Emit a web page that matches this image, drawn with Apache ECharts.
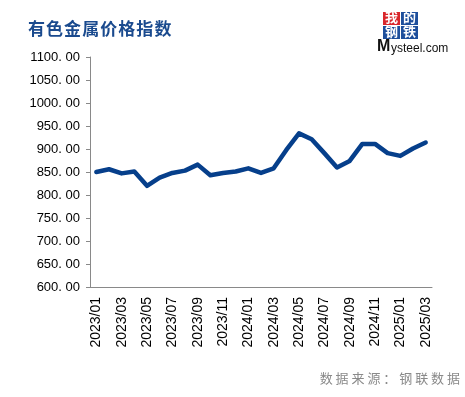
<!DOCTYPE html>
<html>
<head>
<meta charset="utf-8">
<script src="https://cdn.jsdelivr.net/npm/echarts@6/dist/echarts.min.js"></script>
<style>
  html, body { margin: 0; padding: 0; background: #fff; }
  #chart { width: 465px; height: 397px; }
</style>
</head>
<body>
<div id="chart"></div>
<script>
// 月份
const months = [
  '2023/01', '2023/02', '2023/03', '2023/04', '2023/05', '2023/06', '2023/07', '2023/08', '2023/09',
  '2023/10', '2023/11', '2023/12', '2024/01', '2024/02', '2024/03', '2024/04', '2024/05', '2024/06',
  '2024/07', '2024/08', '2024/09', '2024/10', '2024/11', '2024/12', '2025/01', '2025/02', '2025/03'
]
// 有色金属价格指数
const indexValues = [
  850, 856, 847, 851, 820, 838, 848, 853, 866,
  843, 848, 851, 858, 848, 858, 898, 934, 921,
  891, 860, 874, 911, 911, 891, 885, 901, 914
]
const titleText = '有色金属价格指数'
const sourceText = '数据来源：钢联数据'

const myChart = echarts.init(document.getElementById('chart'), null, { renderer: 'canvas' })

const option = {
  animation: false,
  backgroundColor: '#fff',
  grid: { left: 90, right: 33, top: 57, bottom: 110 },
  xAxis: {
    type: 'category',
    data: months,
    boundaryGap: true,
    axisLine: { lineStyle: { color: '#898989', width: 1 } },
    axisTick: { interval: 1, length: 5, lineStyle: { color: '#898989' } },
    axisLabel: {
      interval: 1,
      rotate: 90,
      color: '#000',
      fontSize: 14,
      fontFamily: 'Liberation Sans, Arial, sans-serif',
      margin: 10
    }
  },
  yAxis: {
    type: 'value',
    min: 600,
    max: 1100,
    interval: 50,
    splitLine: { show: false },
    axisLine: { show: true, lineStyle: { color: '#898989', width: 1 } },
    axisTick: { show: true, length: 4, lineStyle: { color: '#898989' } },
    axisLabel: {
      color: '#000',
      fontSize: 13,
      fontFamily: 'Liberation Sans, Arial, sans-serif',
      margin: 10,
      formatter: (v) => v.toFixed(2).replace('.', '. ')
    }
  },
  series: [
    {
      name: titleText,
      type: 'line',
      data: indexValues,
      symbol: 'none',
      smooth: false,
      lineStyle: { color: '#063F8B', width: 4.5, cap: 'round', join: 'round' }
    }
  ],
  graphic: [
    {
      type: 'text',
      left: 28,
      top: 20,
      style: {
        text: titleText.split('').join('\u200A'),
        fill: '#1A4A8E',
        font: 'bold 17px "Noto Sans CJK SC", serif'
      }
    },
    // 我的钢铁 logo
    { type: 'rect', left: 383, top: 12, shape: { width: 17, height: 13 }, style: { fill: '#D9262B' } },
    { type: 'rect', left: 401, top: 12, shape: { width: 17, height: 13 }, style: { fill: '#1E4F9C' } },
    { type: 'rect', left: 383, top: 26, shape: { width: 17, height: 13 }, style: { fill: '#1E4F9C' } },
    { type: 'rect', left: 401, top: 26, shape: { width: 17, height: 13 }, style: { fill: '#1E4F9C' } },
    { type: 'text', left: 385, top: 11, style: { text: '我', fill: '#fff', font: 'bold 13px "Noto Sans CJK SC"' } },
    { type: 'text', left: 403, top: 11, style: { text: '的', fill: '#fff', font: 'bold 13px "Noto Sans CJK SC"' } },
    { type: 'text', left: 385, top: 25, style: { text: '钢', fill: '#fff', font: 'bold 13px "Noto Sans CJK SC"' } },
    { type: 'text', left: 403, top: 25, style: { text: '铁', fill: '#fff', font: 'bold 13px "Noto Sans CJK SC"' } },
    { type: 'text', left: 377, top: 39, style: { text: 'M', fill: '#111', font: 'bold 16px "Liberation Sans", Arial' } },
    { type: 'text', left: 391, top: 43, style: { text: 'ysteel.com', fill: '#111', font: '12px "Liberation Sans", Arial' } },
    {
      type: 'text',
      right: 5,
      top: 372,
      style: {
        text: sourceText.split('').join(' '),
        fill: '#8A8A8A',
        font: '13px "Noto Sans CJK SC", serif'
      }
    }
  ]
}

myChart.setOption(option)
</script>
</body>
</html>
